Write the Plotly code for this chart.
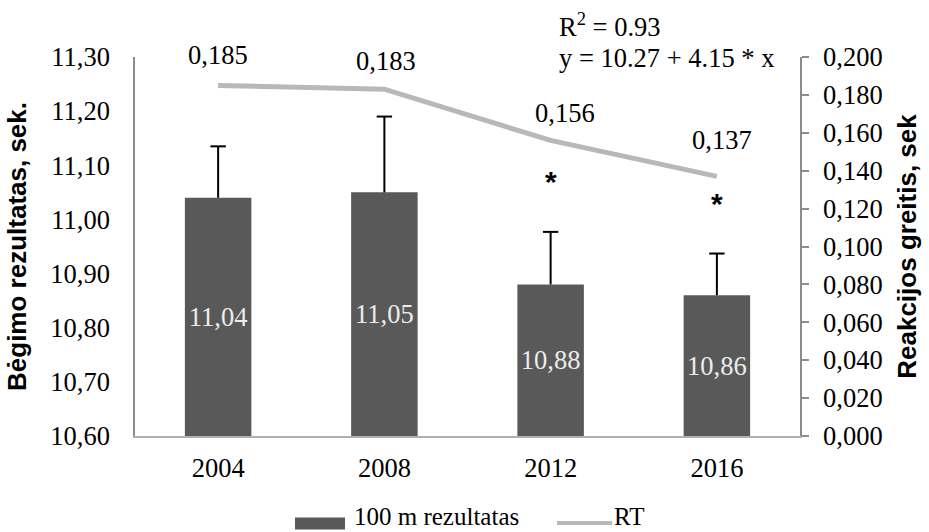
import plotly.graph_objects as go

years = ["2004", "2008", "2012", "2016"]
run_times = [11.04, 11.05, 10.88, 10.86]
run_err = [0.095, 0.14, 0.097, 0.077]
rt = [0.185, 0.183, 0.156, 0.137]
bar_labels = ["11,04", "11,05", "10,88", "10,86"]
rt_labels = ["0,185", "0,183", "0,156", "0,137"]
signif = ["", "", "*", "*"]
left_base = 10.60

SERIF = "Liberation Serif, Times New Roman, serif"
SANS = "Liberation Sans, Arial, sans-serif"
FS = 26.5
BAR_COLOR = "#595959"
LINE_COLOR = "#b8b8b8"

fig = go.Figure()
fig.add_trace(go.Bar(
    x=years, y=[v - left_base for v in run_times], base=left_base,
    name="100 m rezultatas", marker=dict(color=BAR_COLOR, line=dict(width=0)),
    width=0.4,
    text=bar_labels, textposition="inside", insidetextanchor="middle",
    textfont=dict(family=SERIF, size=FS, color="#ececec"),
    yaxis="y", showlegend=False,
))

# error whiskers (upper only) built from the data arrays
wx, wy = [], []
for yr, v, e in zip(years, run_times, run_err):
    wx += [yr, yr, None]
    wy += [v, v + e, None]
fig.add_trace(go.Scatter(x=wx, y=wy, mode="lines", yaxis="y", showlegend=False,
                         line=dict(color="black", width=2), hoverinfo="skip"))
fig.add_trace(go.Scatter(x=years, y=[v + e for v, e in zip(run_times, run_err)], mode="markers",
                         yaxis="y", showlegend=False, hoverinfo="skip",
                         marker=dict(symbol="line-ew", size=11, line=dict(color="black", width=2))))

fig.add_trace(go.Scatter(
    x=years, y=rt, name="RT", mode="lines", yaxis="y2", showlegend=False,
    line=dict(color=LINE_COLOR, width=5),
))

label_shift = [(0, 30), (2, 28), (14, 27), (5, 36)]
annotations = []
for i, (v, lab, (dx, dy)) in enumerate(zip(rt, rt_labels, label_shift)):
    annotations.append(dict(x=i, y=v, xref="x", yref="y2", text=lab, showarrow=False,
                            xshift=dx, yshift=dy,
                            font=dict(family=SERIF, size=FS, color="black")))
for i, (v, e, s) in enumerate(zip(run_times, run_err, signif)):
    if s:
        annotations.append(dict(x=i, y=v + e, xref="x", yref="y", text="<b>*</b>", showarrow=False,
                                yshift=50, font=dict(family=SANS, size=30, color="black")))
annotations.append(dict(x=0.634, y=1.0844, xref="paper", yref="paper", xanchor="left", yanchor="middle",
                        text="R<sup>2</sup> = 0.93", showarrow=False,
                        font=dict(family=SERIF, size=FS, color="black")))
annotations.append(dict(x=0.634, y=0.9974, xref="paper", yref="paper", xanchor="left", yanchor="middle",
                        text="y = 10.27 + 4.15 * x", showarrow=False,
                        font=dict(family=SERIF, size=FS, color="black")))

# manual legend (wide swatches like the original)
legend_y = -0.2296
legend_bottom = -0.2533
shapes = [
    dict(type="rect", xref="paper", yref="paper", x0=0.2406, x1=0.3158, y0=-0.247, y1=-0.215,
         fillcolor=BAR_COLOR, line=dict(width=0)),
    dict(type="line", xref="paper", yref="paper", x0=0.6346, x1=0.7173, y0=legend_y, y1=legend_y,
         line=dict(color=LINE_COLOR, width=4)),
]
annotations.append(dict(x=0.326, y=legend_bottom, xref="paper", yref="paper", xanchor="left", yanchor="bottom",
                        text="100 m rezultatas", showarrow=False,
                        font=dict(family=SERIF, size=25, color="black")))
annotations.append(dict(x=0.718, y=legend_bottom, xref="paper", yref="paper", xanchor="left", yanchor="bottom",
                        text="RT", showarrow=False,
                        font=dict(family=SERIF, size=25, color="black")))

fig.update_layout(
    width=929, height=532,
    margin=dict(l=135, r=129, t=57, b=96, autoexpand=False),
    paper_bgcolor="white", plot_bgcolor="white",
    separators=",.",
    showlegend=False,
    xaxis=dict(type="category", showline=True, linecolor="#b0b0b0", linewidth=2,
               ticks="", tickfont=dict(family=SERIF, size=FS, color="black"),
               ticklabelstandoff=7, showgrid=False, zeroline=False),
    yaxis=dict(range=[10.60, 11.30], dtick=0.1, tick0=10.6, tickformat=".2f",
               showline=True, linecolor="#8c8c8c", linewidth=1.5, ticks="",
               ticklabelstandoff=18, showgrid=False, zeroline=False,
               tickfont=dict(family=SERIF, size=FS, color="black"),
               title=dict(text="<b>Bėgimo rezultatas, sek.</b>", standoff=16,
                          font=dict(family=SANS, size=26, color="black"))),
    yaxis2=dict(range=[0, 0.2], dtick=0.02, tickformat=".3f", overlaying="y", side="right",
                showline=True, linecolor="#8c8c8c", linewidth=1.5, ticks="outside",
                ticklen=7, tickcolor="#8c8c8c", tickwidth=1.5, ticklabelstandoff=9,
                showgrid=False, zeroline=False,
                tickfont=dict(family=SERIF, size=FS, color="black"),
                title=dict(text="<b>Reakcijos greitis, sek</b>", standoff=16,
                           font=dict(family=SANS, size=26, color="black"))),
    shapes=shapes,
    annotations=annotations,
)

fig.write_html("out.html", config={"displayModeBar": False},
               post_script="document.body.style.margin='0';")
